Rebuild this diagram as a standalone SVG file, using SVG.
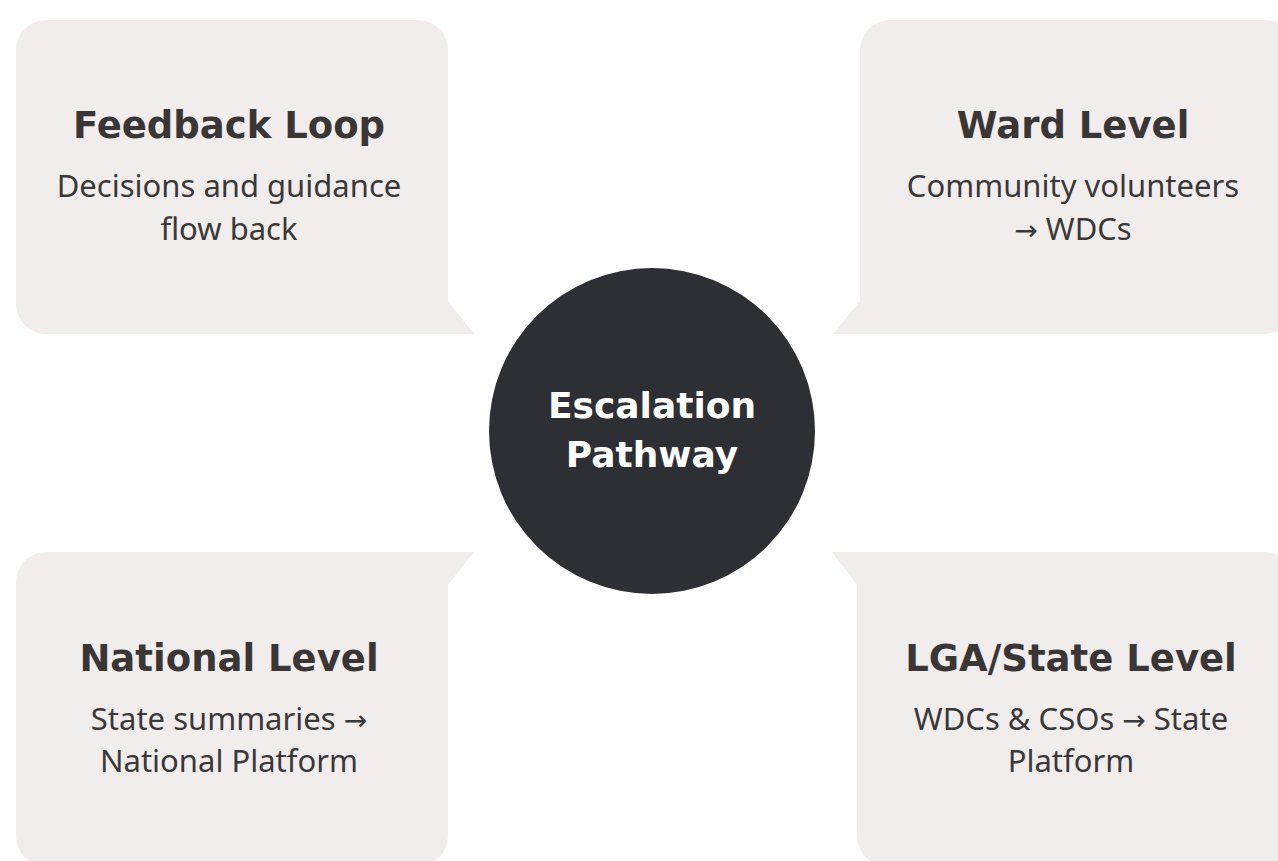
<svg xmlns="http://www.w3.org/2000/svg" width="1278" height="861" viewBox="0 0 1278 861">
  <style>
    .box { fill: #f1eded; }
    .title { font-family: "DejaVu Sans", "Liberation Sans", sans-serif; font-weight: bold; font-size: 37px; fill: #3a3635; text-anchor: middle; }
    .body { font-family: "Noto Sans", "Open Sans", sans-serif; font-size: 31px; fill: #3a3838; text-anchor: middle; }
    .arr { font-family: "DejaVu Sans", sans-serif; font-size: 28px; }
    .hub { fill: #2e2f34; }
    .hubtext { font-family: "DejaVu Sans", "Liberation Sans", sans-serif; font-weight: bold; font-size: 36px; fill: #ffffff; text-anchor: middle; }
  </style>
  <rect width="1278" height="861" fill="#ffffff"/>
  <g id="connectors"/>
  <g id="feedback-loop">
    <path class="box" d="M46,20 H418 A30,30 0 0 1 448,50 V301 L474,334 H46 A30,30 0 0 1 16,304 V50 A30,30 0 0 1 46,20 Z"/>
    <text class="title" x="229" y="138">Feedback Loop</text>
    <text class="body" x="229" y="197">Decisions and guidance</text>
    <text class="body" x="229" y="240">flow back</text>
  </g>
  <g id="ward-level">
    <path class="box" d="M860,301 V50 A30,30 0 0 1 890,20 H1265 A30,30 0 0 1 1295,50 V304 A30,30 0 0 1 1265,334 H833 Z"/>
    <text class="title" x="1073" y="138">Ward Level</text>
    <text class="body" x="1073" y="197">Community volunteers</text>
    <text class="body" x="1073" y="240"><tspan class="arr">→</tspan> WDCs</text>
  </g>
  <g id="national-level">
    <path class="box" d="M46,552 H474 L448,585 V836 A30,30 0 0 1 418,866 H46 A30,30 0 0 1 16,836 V582 A30,30 0 0 1 46,552 Z"/>
    <text class="title" x="229" y="671">National Level</text>
    <text class="body" x="229" y="730">State summaries <tspan class="arr">→</tspan></text>
    <text class="body" x="229" y="772">National Platform</text>
  </g>
  <g id="lga-state-level">
    <path class="box" d="M832,552 H1265 A30,30 0 0 1 1295,582 V836 A30,30 0 0 1 1265,866 H887 A30,30 0 0 1 857,836 V585 Z"/>
    <text class="title" x="1071" y="671">LGA/State Level</text>
    <text class="body" x="1071" y="730">WDCs &amp; CSOs <tspan class="arr">→</tspan> State</text>
    <text class="body" x="1071" y="772">Platform</text>
  </g>
  <g id="escalation-pathway">
    <circle class="hub" cx="652" cy="431" r="163"/>
    <text class="hubtext" x="652" y="418">Escalation</text>
    <text class="hubtext" x="652" y="467">Pathway</text>
  </g>
</svg>
